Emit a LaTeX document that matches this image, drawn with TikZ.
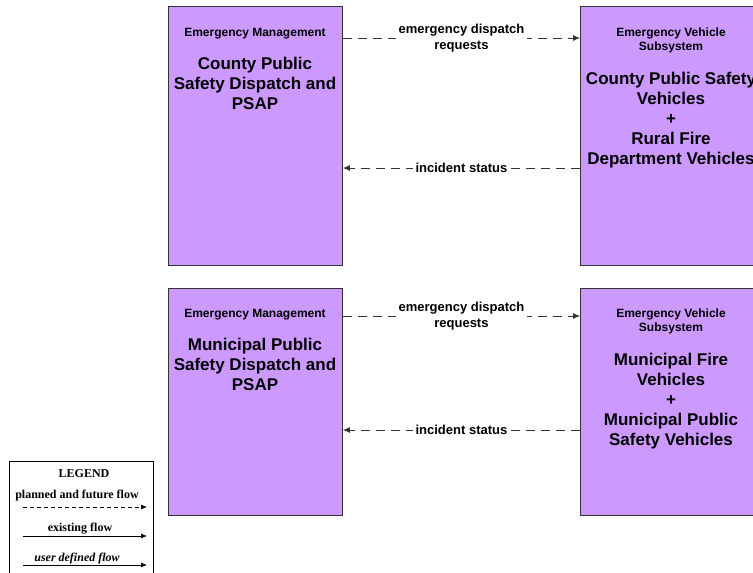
\documentclass[tikz,border=0pt]{standalone}
\usepackage{fontspec}
\setmainfont{Liberation Sans}
\newfontfamily\legendfont{Liberation Serif}
\usetikzlibrary{arrows.meta,calc}
\definecolor{boxfill}{HTML}{CC99FF}
\definecolor{edgecol}{HTML}{333333}
\begin{document}
\begin{tikzpicture}[x=1pt,y=-1pt,
  sysbox/.style={draw=edgecol, fill=boxfill, line width=0.9pt, anchor=north west, inner sep=0pt},
  smalltxt/.style={font=\fontsize{12}{14}\selectfont\bfseries, align=center, anchor=north, inner sep=0pt},
  bigtxt/.style={font=\fontsize{17}{20}\selectfont\bfseries, align=center, anchor=north, inner sep=0pt},
  flow/.style={draw=edgecol, line width=0.8pt, dash pattern=on 9pt off 6pt, -{Latex[length=7pt,width=6pt]}},
  lbl/.style={fill=white, font=\fontsize{13}{15.5}\selectfont\bfseries, align=center, inner xsep=3pt, inner ysep=1.5pt},
  legtxt/.style={font=\legendfont\fontsize{12}{14}\selectfont\bfseries, anchor=base, inner sep=0pt},
  legline/.style={line width=0.7pt, -{Latex[length=6pt,width=5pt]}}
]
\useasboundingbox (0,0) rectangle (753,573);
\clip (0,0) rectangle (753,573);

% top row
\node[sysbox, minimum width=174pt, minimum height=259pt] (b1) at (168,6) {};
\node[sysbox, minimum width=182pt, minimum height=259pt] (b2) at (580,6) {};
\node[smalltxt] (t1a) at (255,28) {Emergency Management};
\node[bigtxt] (t1b) at (255,57) {County Public\\Safety Dispatch and\\PSAP};
\node[smalltxt] (t2a) at (671,28) {Emergency Vehicle\\Subsystem};
\node[bigtxt] (t2b) at (671,72) {County Public Safety\\Vehicles\\+\\Rural Fire\\Department Vehicles};

\draw[flow] ($(b1.north east)+(0,32)$) -- ($(b2.north west)+(0,32)$)
  node[lbl, midway] (l1) {emergency dispatch\\requests};
\draw[flow] ($(b2.north west)+(0,162)$) -- ($(b1.north east)+(0,162)$)
  node[lbl, midway] (l2) {incident status};

% bottom row
\node[sysbox, minimum width=174pt, minimum height=227pt] (b3) at (168,288) {};
\node[sysbox, minimum width=182pt, minimum height=227pt] (b4) at (580,288) {};
\node[smalltxt] (t3a) at (255,309) {Emergency Management};
\node[bigtxt] (t3b) at (255,338) {Municipal Public\\Safety Dispatch and\\PSAP};
\node[smalltxt] (t4a) at (671,309) {Emergency Vehicle\\Subsystem};
\node[bigtxt] (t4b) at (671,353) {Municipal Fire\\Vehicles\\+\\Municipal Public\\Safety Vehicles};

\draw[flow] ($(b3.north east)+(0,28)$) -- ($(b4.north west)+(0,28)$)
  node[lbl, midway] (l3) {emergency dispatch\\requests};
\draw[flow] ($(b4.north west)+(0,142)$) -- ($(b3.north east)+(0,142)$)
  node[lbl, midway] (l4) {incident status};

% legend
\node[draw, line width=0.8pt, anchor=north west, minimum width=144pt, minimum height=130pt, inner sep=0pt] (leg) at (9,461) {};
\node[legtxt] (lg0) at (84,477) {LEGEND};
\node[legtxt] (lg1) at (77,498) {planned and future flow};
\coordinate (p1s) at (23,507); \coordinate (p1e) at (147,507);
\draw[legline, dash pattern=on 4pt off 3pt] (p1s) -- (p1e);
\node[legtxt] (lg2) at (80,531) {existing flow};
\coordinate (p2s) at (23,536); \coordinate (p2e) at (147,536);
\draw[legline] (p2s) -- (p2e);
\node[legtxt, font=\legendfont\fontsize{12}{14}\selectfont\bfseries\itshape] (lg3) at (77,561) {user defined flow};
\coordinate (p3s) at (23,565); \coordinate (p3e) at (147,565);
\draw[legline] (p3s) -- (p3e);
\end{tikzpicture}
\end{document}
